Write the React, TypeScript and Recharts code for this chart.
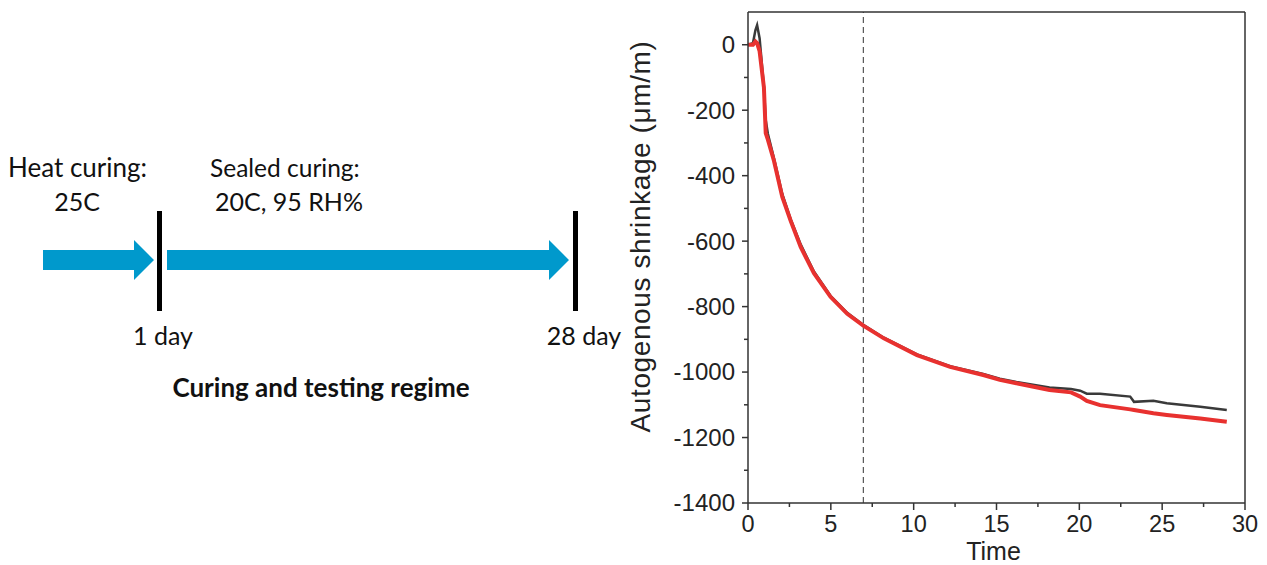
import { Line, LineChart, ReferenceLine, XAxis, YAxis } from 'recharts'

// time (days) and autogenous shrinkage readings for the two specimens
const times = [
  0, 0.3, 0.45, 0.55, 0.7, 0.96, 1.07, 1.2, 1.57, 2.07, 2.57, 3.18, 3.98, 4.98, 5.99, 6.96, 8.2, 10.2, 12.2, 14.2,
  15.2, 16.2, 18.2, 19.5, 20.05, 20.45, 21.25, 23.07, 23.3, 24.47, 25.28, 27.3, 28.9,
]
const specimenA = [
  0, 5, 45, 60, 20, -127, -230, -272, -347, -456, -532, -610, -693, -767, -819, -856, -895, -946, -982, -1006,
  -1020, -1030, -1047, -1052, -1057, -1066, -1066, -1075, -1091, -1088, -1095, -1106, -1116,
]
const specimenB = [
  0, 0, 10, 5, -20, -130, -270, -290, -355, -465, -537, -618, -698, -770, -822, -858, -897, -948, -984, -1009,
  -1024, -1034, -1055, -1062, -1075, -1088, -1101, -1114, -1116, -1126, -1131, -1142, -1152,
]
const xTicks = [0, 2.5, 5, 7.5, 10, 12.5, 15, 17.5, 20, 22.5, 25, 27.5, 30]
const yTicks = [0, -100, -200, -300, -400, -500, -600, -700, -800, -900, -1000, -1100, -1200, -1300, -1400]
const xDomain = [0, 30]
const yDomain = [-1400, 100]
const markerDay = 6.96

const rows = times.map((t, i) => ({ t, a: specimenA[i], b: specimenB[i] }))

const axisColor = '#333'
const chartFont = '"Liberation Sans", Arial, sans-serif'
const diagramFont = 'Lato, "Noto Sans", sans-serif'
const arrowBlue = '#0099cc'

function XTick({ x, y, payload }: any) {
  const major = payload.value % 5 === 0
  return (
    <g>
      <line x1={x} x2={x} y1={y} y2={y + (major ? 7 : 4)} stroke={axisColor} strokeWidth={1.5} />
      {major && (
        <text x={x} y={y + 29} textAnchor="middle" fontSize={23.5} fill="#222" fontFamily={chartFont}>
          {payload.value}
        </text>
      )}
    </g>
  )
}

function YTick({ x, y, payload }: any) {
  const major = payload.value % 200 === 0
  return (
    <g>
      <line x1={x - (major ? 6 : 4)} x2={x} y1={y} y2={y} stroke={axisColor} strokeWidth={1.5} />
      {major && (
        <text x={x - 13} y={y} dy="0.35em" textAnchor="end" fontSize={24} fill="#222" fontFamily={chartFont}>
          {payload.value}
        </text>
      )}
    </g>
  )
}

function CuringRegime() {
  return (
    <svg width={640} height={565} style={{ position: 'absolute', left: 0, top: 0 }} fontFamily={diagramFont}>
      <g fontSize={25} fill="#111">
        <text x={8} y={177} fontSize={26}>Heat curing:</text>
        <text x={77} y={211} textAnchor="middle">25C</text>
        <text x={210} y={177} fontSize={24.5}>Sealed curing:</text>
        <text x={289} y={211} textAnchor="middle">20C, 95 RH%</text>
        <text x={163} y={345} textAnchor="middle">1 day</text>
        <text x={584} y={345} textAnchor="middle">28 day</text>
      </g>
      <text x={321} y={397} textAnchor="middle" fontSize={26} fontWeight="bold" fill="#111">
        Curing and testing regime
      </text>
      <polygon points="43,250 134,250 134,240 154,260 134,280 134,270 43,270" fill={arrowBlue} />
      <polygon points="167,250 549,250 549,240 569,260 549,280 549,270 167,270" fill={arrowBlue} />
      <rect x={157} y={211} width={5} height={100} fill="#000" />
      <rect x={573} y={211} width={5} height={100} fill="#000" />
    </svg>
  )
}

export default function App() {
  return (
    <div style={{ position: 'absolute', left: 0, top: 0, width: 1267, height: 565, background: '#fff' }}>
      <CuringRegime />
      <div style={{ position: 'absolute', left: 620, top: 0 }}>
        <LineChart width={647} height={565} data={rows} margin={{ top: 12, right: 22, bottom: 2, left: 28 }}>
          <XAxis
            dataKey="t"
            type="number"
            domain={xDomain}
            ticks={xTicks}
            interval={0}
            tickSize={0}
            tickMargin={0}
            tick={<XTick />}
            height={60}
            axisLine={{ stroke: axisColor, strokeWidth: 1.5 }}
            label={{
              content: ({ viewBox }: any) => (
                <text
                  x={viewBox.x + viewBox.width / 2 - 3}
                  y={viewBox.y + 57}
                  textAnchor="middle"
                  fontSize={25}
                  fill="#222"
                  fontFamily={chartFont}
                >
                  Time
                </text>
              ),
            }}
          />
          <YAxis
            type="number"
            domain={yDomain}
            ticks={yTicks}
            interval={0}
            tickSize={0}
            tickMargin={0}
            tick={<YTick />}
            width={100}
            axisLine={{ stroke: axisColor, strokeWidth: 1.5 }}
            label={{
              content: ({ viewBox }: any) => {
                const cx = viewBox.x - 8
                const cy = viewBox.y + viewBox.height / 2 - 21
                return (
                  <text
                    x={cx}
                    y={cy}
                    transform={`rotate(-90, ${cx}, ${cy})`}
                    textAnchor="middle"
                    dominantBaseline="central"
                    fontSize={28}
                    letterSpacing={0.6}
                    fill="#222"
                    fontFamily={chartFont}
                  >
                    Autogenous shrinkage (μm/m)
                  </text>
                )
              },
            }}
          />
          {/* frame: top and right edges of the plot box */}
          <ReferenceLine y={yDomain[1]} stroke={axisColor} strokeWidth={1.5} />
          <ReferenceLine x={xDomain[1]} stroke={axisColor} strokeWidth={1.5} />
          <ReferenceLine x={markerDay} stroke={axisColor} strokeWidth={1} strokeDasharray="6 4" />
          <Line dataKey="a" type="linear" stroke="#3a3a3a" strokeWidth={2.5} dot={false} isAnimationActive={false} />
          <Line dataKey="b" type="linear" stroke="#e8312f" strokeWidth={4} dot={false} isAnimationActive={false} />
        </LineChart>
      </div>
    </div>
  )
}
